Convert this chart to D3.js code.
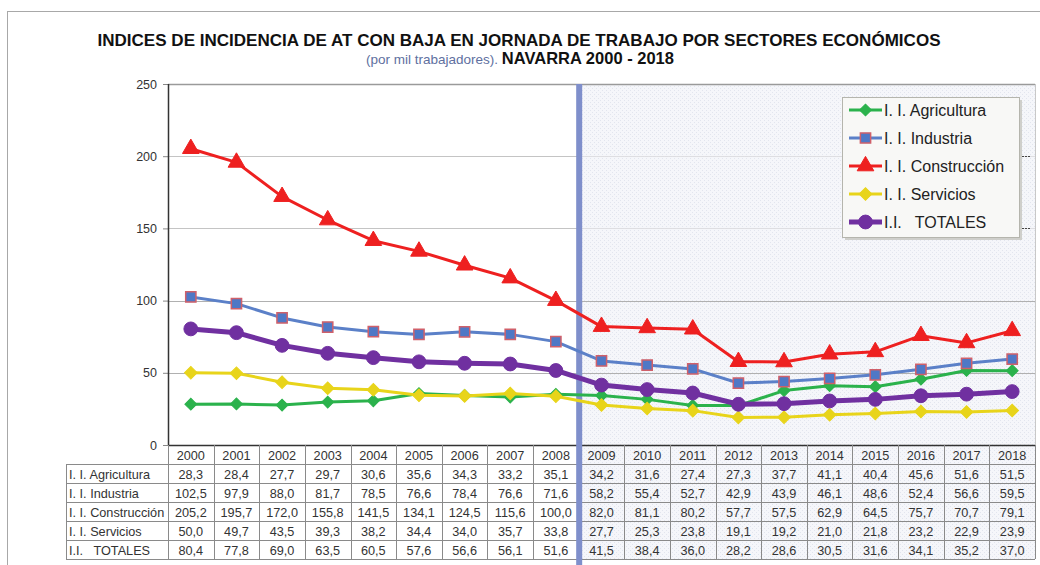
<!DOCTYPE html>
<html><head><meta charset="utf-8">
<script src="https://cdn.jsdelivr.net/npm/d3@7"></script>
<style>
html,body{margin:0;padding:0;background:#fff;}
svg{display:block;font-family:"Liberation Sans",Arial,sans-serif;}
</style></head>
<body>
<svg id="chart" width="1040" height="565"></svg>
<script>
const years = ["2000","2001","2002","2003","2004","2005","2006","2007","2008","2009","2010","2011","2012","2013","2014","2015","2016","2017","2018"];
const agricultura = [28.3,28.4,27.7,29.7,30.6,35.6,34.3,33.2,35.1,34.2,31.6,27.4,27.3,37.7,41.1,40.4,45.6,51.6,51.5];
const industria = [102.5,97.9,88.0,81.7,78.5,76.6,78.4,76.6,71.6,58.2,55.4,52.7,42.9,43.9,46.1,48.6,52.4,56.6,59.5];
const construccion = [205.2,195.7,172.0,155.8,141.5,134.1,124.5,115.6,100.0,82.0,81.1,80.2,57.7,57.5,62.9,64.5,75.7,70.7,79.1];
const servicios = [50.0,49.7,43.5,39.3,38.2,34.4,34.0,35.7,33.8,27.7,25.3,23.8,19.1,19.2,21.0,21.8,23.2,22.9,23.9];
const totales = [80.4,77.8,69.0,63.5,60.5,57.6,56.6,56.1,51.6,41.5,38.4,36.0,28.2,28.6,30.5,31.6,34.1,35.2,37.0];
const seriesNames = ["I. I. Agricultura","I. I. Industria","I. I. Construcción","I. I. Servicios","I.I.   TOTALES"];
const yTicks = [0,50,100,150,200,250];
const title = "INDICES DE INCIDENCIA DE AT CON BAJA EN JORNADA DE TRABAJO POR SECTORES ECONÓMICOS";
const subtitleA = "(por mil trabajadores).";
const subtitleB = "NAVARRA 2000 - 2018";

const seriesValues = [agricultura, industria, construccion, servicios, totales];
const styles = [
  {color:"#2bb24c", sym:"diamond", width:3, fill:"#2bb24c", stroke:"#2bb24c", size:70},
  {color:"#5b80c8", sym:"square", width:3, fill:"#4f78c6", stroke:"#d0606a", size:105},
  {color:"#ee2020", sym:"triangle", width:3, fill:"#ee2020", stroke:"#ee2020", size:120},
  {color:"#e8d41a", sym:"diamond", width:3, fill:"#e8d41a", stroke:"#e8d41a", size:80},
  {color:"#7030a0", sym:"circle", width:5, fill:"#7030a0", stroke:"#7030a0", size:150}
];

const svg = d3.select("#chart");
const L = 168, R = 1035, T = 84, B = 445;
const x = d3.scaleBand().domain(years).range([L, R]);
const y = d3.scaleLinear().domain([0, 250]).range([B, T]);
const bw = x.bandwidth();
const cx = d => x(d) + bw / 2;
const loc = d3.formatLocale({decimal:",", thousands:".", grouping:[3], currency:["","€"]});
const fmt = loc.format(".1f");

// patterned right region
const defs = svg.append("defs");
const pat = defs.append("pattern").attr("id","dots").attr("width",4).attr("height",4).attr("patternUnits","userSpaceOnUse");
pat.append("rect").attr("width",4).attr("height",4).attr("fill","#f5f6fa");
pat.append("rect").attr("x",0).attr("y",0).attr("width",1).attr("height",1).attr("fill","#e2e5ee");
pat.append("rect").attr("x",2).attr("y",2).attr("width",1).attr("height",1).attr("fill","#e2e5ee");

const splitX = x("2009");
svg.append("rect").attr("x", splitX).attr("y", T).attr("width", R - splitX).attr("height", 559 - T).attr("fill","url(#dots)");

// outer frame
svg.append("line").attr("x1",7.5).attr("x2",7.5).attr("y1",11).attr("y2",565).attr("stroke","#a8a8a8");
svg.append("line").attr("x1",7).attr("x2",1040).attr("y1",11.5).attr("y2",11.5).attr("stroke","#a8a8a8");

// title
svg.append("text").attr("x",519).attr("y",46).attr("text-anchor","middle")
  .attr("font-size",16.5).attr("font-weight","bold").attr("fill","#111")
  .attr("textLength",843).attr("lengthAdjust","spacingAndGlyphs").text(title);
const st = svg.append("text").attr("x",520).attr("y",64).attr("text-anchor","middle");
st.append("tspan").attr("font-size",13.5).attr("fill","#6070a0").text(subtitleA + " ");
st.append("tspan").attr("font-size",16.5).attr("font-weight","bold").attr("fill","#111").text(" " + subtitleB);

// gridlines
svg.append("g").selectAll("line").data(yTicks.filter(v => v > 0 && v < 250)).join("line")
  .attr("x1", L).attr("x2", d => d >= 150 ? splitX : R).attr("y1", d => Math.round(y(d)) + 0.5).attr("y2", d => Math.round(y(d)) + 0.5)
  .attr("stroke", d => d >= 150 ? "#c4c4c4" : "#b0b0b0").attr("stroke-width",1);
svg.append("g").selectAll("line").data([150,200]).join("line")
  .attr("x1", splitX).attr("x2", R).attr("y1", d => Math.round(y(d)) + 0.5).attr("y2", d => Math.round(y(d)) + 0.5)
  .attr("stroke","#dedee2");
svg.append("g").selectAll("line").data([150,200]).join("line")
  .attr("x1", 1019).attr("x2", 1031).attr("y1", d => Math.round(y(d)) + 0.5).attr("y2", d => Math.round(y(d)) + 0.5)
  .attr("stroke","#444").attr("stroke-dasharray","2,1");
// top border
svg.append("line").attr("x1",L).attr("x2",R).attr("y1",T+0.5).attr("y2",T+0.5).attr("stroke","#9a9a9a").attr("stroke-width",1.5);
svg.append("line").attr("x1",R+0.5).attr("x2",R+0.5).attr("y1",T).attr("y2",B).attr("stroke","#c8c8c8");

// y axis
const yAxis = svg.append("g").attr("transform",`translate(${L},0)`)
  .call(d3.axisLeft(y).tickValues(yTicks).tickSize(5).tickPadding(6).tickFormat(d3.format("d")));
yAxis.select(".domain").remove();
yAxis.selectAll(".tick line").attr("stroke","#888");
yAxis.selectAll(".tick text").attr("font-size",12.5).attr("fill","#333").attr("font-family","Liberation Sans, Arial, sans-serif");
svg.append("line").attr("x1",L+0.5).attr("x2",L+0.5).attr("y1",T).attr("y2",B).attr("stroke","#333").attr("stroke-width",1.5);

// table
const rowH = 19;
const rowTops = d3.range(6).map(i => 464 + i * rowH);
const tbl = svg.append("g");
tbl.append("line").attr("x1",L).attr("x2",R).attr("y1",B+0.5).attr("y2",B+0.5).attr("stroke","#333").attr("stroke-width",1.5);
tbl.selectAll("line.h").data(rowTops).join("line").attr("class","h")
  .attr("x1",66).attr("x2",R).attr("y1",d=>d+0.5).attr("y2",d=>d+0.5).attr("stroke","#8a8a8a");
tbl.selectAll("line.v").data(years.map(d => x(d)).concat([R])).join("line").attr("class","v")
  .attr("x1",d=>Math.round(d)+0.5).attr("x2",d=>Math.round(d)+0.5).attr("y1",B).attr("y2",rowTops[5]).attr("stroke","#8a8a8a");
tbl.append("line").attr("x1",66.5).attr("x2",66.5).attr("y1",rowTops[0]).attr("y2",rowTops[5]).attr("stroke","#8a8a8a");
tbl.selectAll("text.yr").data(years).join("text").attr("class","yr")
  .attr("x", d => cx(d)).attr("y", 459.5).attr("text-anchor","middle").attr("font-size",12.7).attr("fill","#333").text(d => d);
seriesNames.forEach((name, i) => {
  const ty = rowTops[i] + 14.5;
  tbl.append("text").attr("x",69).attr("y",ty).attr("font-size",12.7).attr("fill","#333")
    .style("white-space","pre").text(name);
  tbl.selectAll(null).data(seriesValues[i]).join("text")
    .attr("x",(d,j) => cx(years[j])).attr("y",ty).attr("text-anchor","middle")
    .attr("font-size",12.7).attr("fill","#333").text(d => fmt(d));
});

// separator bar
svg.append("rect").attr("x", splitX - 2.5).attr("y", T).attr("width", 6).attr("height", 565 - T).attr("fill","#7f8fcb");

// series
const symType = {diamond: d3.symbolSquare, square: d3.symbolSquare, triangle: d3.symbolTriangle, circle: d3.symbolCircle};
function drawMarker(g, st, px, py) {
  const p = d3.symbol().type(symType[st.sym]).size(st.size)();
  g.append("path").attr("d", p)
    .attr("transform", `translate(${px},${py})` + (st.sym === "diamond" ? " rotate(45)" : ""))
    .attr("fill", st.fill).attr("stroke", st.stroke).attr("stroke-width", st.sym === "square" ? 1.5 : 1);
}
const line = d3.line().x((d,j) => cx(years[j])).y(d => y(d));
const order = [0,3,4,1,2];
order.forEach(i => {
  const st = styles[i];
  const g = svg.append("g");
  g.append("path").datum(seriesValues[i]).attr("d", line).attr("fill","none")
    .attr("stroke", st.color).attr("stroke-width", st.width).attr("stroke-linejoin","round");
  seriesValues[i].forEach((v, j) => drawMarker(g, st, cx(years[j]), y(v)));
});

// legend
const lg = svg.append("g");
lg.append("rect").attr("x",845).attr("y",100).attr("width",177).attr("height",140).attr("fill","#cfcfcb");
lg.append("rect").attr("x",842.5).attr("y",97.5).attr("width",177).attr("height",140).attr("fill","#f8f8f6").attr("stroke","#b5b5ad");
seriesNames.forEach((name, i) => {
  const ly = 110 + i * 28;
  const st = styles[i];
  lg.append("line").attr("x1",849).attr("x2",882).attr("y1",ly).attr("y2",ly).attr("stroke",st.color).attr("stroke-width",st.width);
  drawMarker(lg, st, 865.5, ly);
  lg.append("text").attr("x",884).attr("y",ly+6).attr("font-size",16).attr("fill","#222")
    .style("white-space","pre").text(name);
});
</script>
</body></html>
